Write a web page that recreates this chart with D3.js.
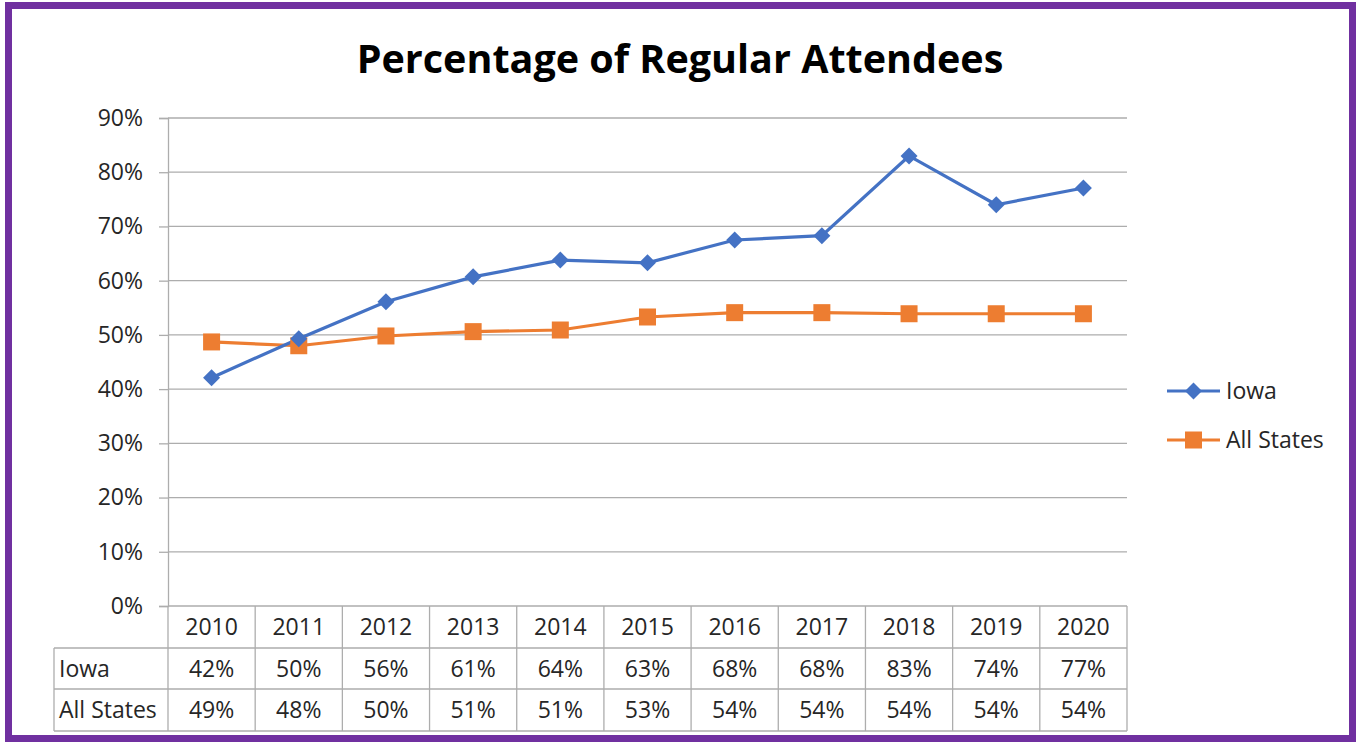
<!DOCTYPE html>
<html><head><meta charset="utf-8">
<script src="https://cdn.jsdelivr.net/npm/d3@7"></script>
<style>body{margin:0;background:#fff}svg{display:block}</style>
</head><body>
<svg id="c" width="1356" height="742"></svg>
<script>
const years = ["2010","2011","2012","2013","2014","2015","2016","2017","2018","2019","2020"];
const iowa = [42.1, 49.3, 56.1, 60.7, 63.8, 63.3, 67.5, 68.3, 83.0, 74.0, 77.1];
const allStates = [48.7, 48.0, 49.8, 50.6, 50.9, 53.3, 54.1, 54.1, 53.9, 53.9, 53.9];
const iowaLabels = ["42%","50%","56%","61%","64%","63%","68%","68%","83%","74%","77%"];
const allLabels = ["49%","48%","50%","51%","51%","53%","54%","54%","54%","54%","54%"];
const yTicks = [0,10,20,30,40,50,60,70,80,90];
const title = "Percentage of Regular Attendees";

const svg = d3.select("#c");
const font = "'Open Sans', sans-serif";
const grid = "#adadad";
const blue = "#4472C4", orange = "#ED7D31";
const fs = 23;

// border
svg.append("rect").attr("x",8.5).attr("y",5.5).attr("width",1344).attr("height",733)
  .attr("fill","#fff").attr("stroke","#7030A0").attr("stroke-width",7);

svg.append("text").attr("x",680).attr("y",73).attr("text-anchor","middle")
  .attr("font-family",font).attr("font-weight","bold").attr("font-size",39.5)
  .attr("fill","#000").text(title);

const x = d3.scaleBand().domain(years).range([168,1127]).paddingInner(0).paddingOuter(0);
const y = d3.scaleLinear().domain([0,90]).range([606,118]);

// gridlines
svg.append("g").selectAll("line").data(yTicks).join("line")
  .attr("x1",168).attr("x2",1127).attr("y1",d=>y(d)).attr("y2",d=>y(d))
  .attr("stroke",grid).attr("stroke-width",1.3);

// y axis
const yAxis = d3.axisLeft(y).tickValues(yTicks).tickFormat(d=>d+"%").tickSize(9).tickPadding(16);
const ga = svg.append("g").attr("transform","translate(168,0)").call(yAxis);
ga.select(".domain").attr("stroke",grid).attr("stroke-width",1.3);
ga.selectAll(".tick line").attr("stroke",grid).attr("stroke-width",1.3);
ga.selectAll(".tick text").attr("font-family",font).attr("font-size",fs).attr("fill","#262626");

// table
const rowY = [606, 648, 689, 731];
const tbl = svg.append("g").attr("stroke",grid).attr("stroke-width",1.3);
const edges = years.map(d=>x(d)).concat([x.range()[1]]);
tbl.selectAll("line.v").data(edges).join("line").attr("class","v")
  .attr("x1",d=>d).attr("x2",d=>d).attr("y1",rowY[0]).attr("y2",rowY[3]);
tbl.append("line").attr("x1",54).attr("x2",54).attr("y1",rowY[1]).attr("y2",rowY[3]);
tbl.selectAll("line.h").data(rowY.slice(1)).join("line").attr("class","h")
  .attr("x1",54).attr("x2",1127).attr("y1",d=>d).attr("y2",d=>d);

const tt = svg.append("g").attr("font-family",font).attr("font-size",fs).attr("fill","#262626");
const cx = d=>x(d)+x.bandwidth()/2;
tt.selectAll("text.yr").data(years).join("text").attr("class","yr")
  .attr("x",cx).attr("y",(rowY[0]+rowY[1])/2+8).attr("text-anchor","middle").text(d=>d);
tt.selectAll("text.io").data(years).join("text").attr("class","io")
  .attr("x",cx).attr("y",(rowY[1]+rowY[2])/2+8).attr("text-anchor","middle").text((d,i)=>iowaLabels[i]);
tt.selectAll("text.al").data(years).join("text").attr("class","al")
  .attr("x",cx).attr("y",(rowY[2]+rowY[3])/2+8).attr("text-anchor","middle").text((d,i)=>allLabels[i]);
tt.append("text").attr("x",59).attr("y",(rowY[1]+rowY[2])/2+8).text("Iowa");
tt.append("text").attr("x",59).attr("y",(rowY[2]+rowY[3])/2+8).text("All States");

// lines
const line = d3.line().x((d,i)=>cx(years[i])).y(d=>y(d));
svg.append("path").datum(allStates).attr("d",line).attr("fill","none").attr("stroke",orange).attr("stroke-width",3.2);
svg.append("path").datum(iowa).attr("d",line).attr("fill","none").attr("stroke",blue).attr("stroke-width",3.2);

function drawDiamond(g, px, py){
  g.append("path").attr("d","M0,-8.5L8.5,0L0,8.5L-8.5,0Z").attr("transform",`translate(${px},${py})`).attr("fill",blue);
}
function drawSquare(g, px, py){
  g.append("rect").attr("x",px-8.5).attr("y",py-8.5).attr("width",17).attr("height",17).attr("fill",orange);
}
const mk = svg.append("g");
allStates.forEach((v,i)=>drawSquare(mk, cx(years[i]), y(v)));
iowa.forEach((v,i)=>drawDiamond(mk, cx(years[i]), y(v)));

// legend
const lg = svg.append("g");
const legend = [{name:"Iowa",color:blue,sym:"d",y:391},{name:"All States",color:orange,sym:"s",y:440}];
legend.forEach(l=>{
  lg.append("line").attr("x1",1167).attr("x2",1220).attr("y1",l.y).attr("y2",l.y).attr("stroke",l.color).attr("stroke-width",3.2);
  if(l.sym==="d") drawDiamond(lg,1193.5,l.y); else drawSquare(lg,1193.5,l.y);
  lg.append("text").attr("x",1226).attr("y",l.y+8).attr("font-family",font).attr("font-size",fs).attr("fill","#262626").text(l.name);
});
</script>
</body></html>
